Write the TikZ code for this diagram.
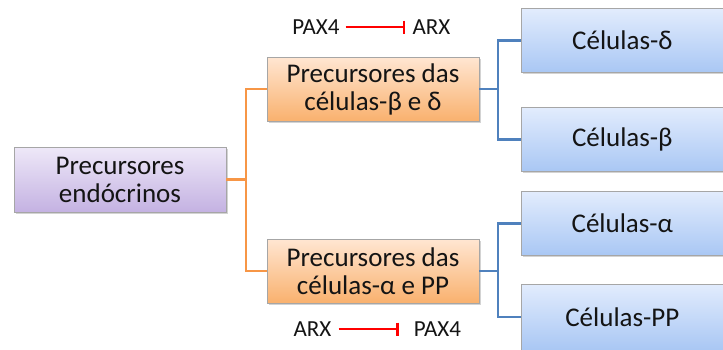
\documentclass[tikz,border=0pt]{standalone}
\usepackage{fontspec}
\setmainfont{Carlito}
\usetikzlibrary{arrows.meta,shadows}
\definecolor{txt}{HTML}{141414}
\definecolor{orgline}{HTML}{F79646}
\definecolor{blueline}{HTML}{4F81BD}
\definecolor{purT}{HTML}{EEE8F8}
\definecolor{purB}{HTML}{C4B2E2}
\definecolor{orT}{HTML}{FFE6D2}
\definecolor{orB}{HTML}{F9B16E}
\definecolor{blT}{HTML}{E2ECFD}
\definecolor{blB}{HTML}{A9C7F4}
\definecolor{boxedge}{HTML}{A6A6A6}
\tikzset{
  box/.style={draw=boxedge, line width=0.7pt, align=center, text=txt,
    font=\fontsize{27}{28}\selectfont, inner sep=0pt,
    drop shadow={shadow xshift=1.5pt, shadow yshift=-1.8pt, opacity=0.35}},
  purbox/.style={box, top color=purT, bottom color=purB, minimum width=212pt, minimum height=65pt},
  orbox/.style={box, top color=orT, bottom color=orB, minimum width=212pt, minimum height=64pt},
  blbox/.style={box, top color=blT, bottom color=blB, minimum width=206pt, minimum height=64pt},
  lbl/.style={text=txt, font=\fontsize{23}{24}\selectfont, inner sep=0pt},
  oconn/.style={draw=orgline, line width=2.2pt},
  bconn/.style={draw=blueline, line width=2.2pt},
  inhib/.style={draw=red, line width=2.6pt, -{Bar[width=13pt,line width=2.6pt]}}
}
\begin{document}
\begin{tikzpicture}[x=1pt,y=-1pt]
\useasboundingbox (0,0) rectangle (723,349);
\node[purbox] (p) at (120,179.5) {Precursores\\endócrinos};
\node[orbox] (o1) at (373,89) {Precursores das\\células-β e δ};
\node[orbox] (o2) at (373,271) {Precursores das\\células-α e PP};
\node[blbox, anchor=west] (b1) at (521,40.5) {\hspace*{-4pt}Células-δ};
\node[blbox, anchor=west] (b2) at (521,139.5) {\hspace*{-4pt}Células-β};
\node[blbox, anchor=west] (b3) at (521,223.5) {\hspace*{-4pt}Células-α};
\node[blbox, anchor=west, minimum height=66pt] (b4) at (521,317) {\hspace*{-4pt}Células-PP};
\draw[oconn] (p.east) -- ++(20,0) coordinate (oj) |- (o1.west);
\draw[oconn] (oj) |- (o2.west);
\draw[bconn] (o1.east) -- ++(19,0) coordinate (bj1) |- (b1.west);
\draw[bconn] (bj1) |- (b2.west);
\draw[bconn] (o2.east) -- ++(19,0) coordinate (bj2) |- (b3.west);
\draw[bconn] (bj2) |- (b4.west);
\node[lbl] (pax4a) at (316,27) {PAX4};
\node[lbl] (arxa) at (431.5,27) {ARX};
\draw[inhib, shorten <=6pt, shorten >=7pt] (pax4a.east) -- (arxa.west);
\node[lbl] (arxb) at (312.5,329) {ARX};
\node[lbl] (pax4b) at (437.5,329) {PAX4};
\draw[inhib, shorten <=7pt, shorten >=15pt] (arxb.east) -- (pax4b.west);
\end{tikzpicture}
\end{document}
